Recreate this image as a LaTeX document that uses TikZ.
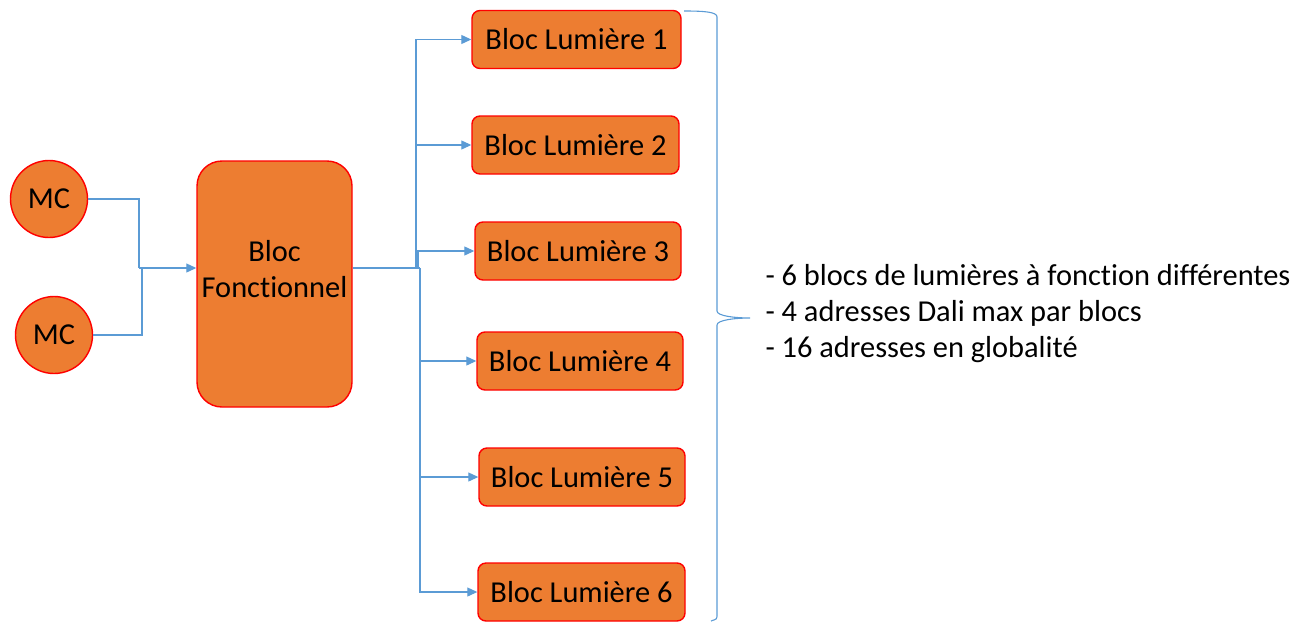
\documentclass[tikz,border=0pt]{standalone}
\usepackage{fontspec}
\setmainfont{Carlito}[Ligatures=NoCommon]
\usetikzlibrary{arrows.meta}
\definecolor{boxfill}{HTML}{ED7D31}
\definecolor{boxline}{HTML}{FF0000}
\definecolor{wire}{HTML}{5B9BD5}
\begin{document}
\begin{tikzpicture}[x=1pt,y=-1pt,
  every node/.style={font=\fontsize{30.4}{36}\selectfont},
  mc/.style={circle,draw=boxline,fill=boxfill,line width=1.4pt,minimum size=77pt,inner sep=0pt},
  lumbox/.style={draw=boxline,fill=boxfill,line width=1.4pt,rounded corners=8pt,minimum width=207pt,minimum height=58pt,inner sep=0pt},
  fbox/.style={draw=boxline,fill=boxfill,line width=1.4pt,rounded corners=25pt,minimum width=155pt,minimum height=246pt,inner sep=0pt},
  wireline/.style={draw=wire,line width=1.1pt},
  arr/.style={wireline,-{Triangle[length=10pt,width=9pt]}},
  brace/.style={draw=wire,line width=1.1pt}]
\useasboundingbox (0,0) rectangle (1306,622);

% inputs
\node[mc] (mc1) at (49,199) {MC};
\node[mc] (mc2) at (54,335) {MC};

% central block
\node[fbox] (bf) at (274.5,284) {};
\node[align=center] (bft) at (274.5,269) {Bloc\\Fonctionnel};

% light blocks
\node[lumbox,minimum width=209pt] (b1) at (576.5,39.5) {Bloc Lumière 1};
\node[lumbox] (b2) at (575.5,145) {Bloc Lumière 2};
\node[lumbox,minimum width=206pt] (b3) at (578,251) {Bloc Lumière 3};
\node[lumbox,minimum width=206pt] (b4) at (580,361) {Bloc Lumière 4};
\node[lumbox,minimum width=206pt] (b5) at (582,477) {Bloc Lumière 5};
\node[lumbox] (b6) at (581.5,592) {Bloc Lumière 6};

% merge of the two inputs
\coordinate (ja) at (139,268);
\coordinate (jb) at (142,268);
\draw[wireline] (mc1.east) -| (ja);
\draw[wireline] (mc2.east) -| (jb);
\draw[arr] (ja) -- (ja -| bf.west);

% fan-out to the light blocks
\coordinate (out) at (bf.east |- ja);
\coordinate (ta) at (416,268);
\coordinate (tb) at (418,268);
\coordinate (tc) at (420,268);
\draw[wireline] (out) -- (tc);
\draw[arr] (ta) |- (b1);
\draw[arr] (ta |- b2) -- (b2);
\draw[arr] (tb) |- (b3);
\draw[arr] (tc) |- (b6);
\draw[arr] (tc |- b4) -- (b4);
\draw[arr] (tc |- b5) -- (b5);

% brace and notes
\coordinate (btop) at (684,11);
\coordinate (bbot) at (711,621);
\coordinate (btip) at (750,318);
\draw[brace] (btop) .. controls (705,11) and (717,12) .. (717,17)
  -- (717,311) .. controls (717,316) and (735,318) .. (btip)
  .. controls (735,318) and (717,320) .. (717,325)
  -- (717,615) .. controls (717,619) .. (bbot);
\node[anchor=west,align=left] (notes) at (762,314)
  {- 6 blocs de lumières à fonction différentes\\
   - 4 adresses Dali max par blocs\\
   - 16 adresses en globalité};
\end{tikzpicture}
\end{document}
